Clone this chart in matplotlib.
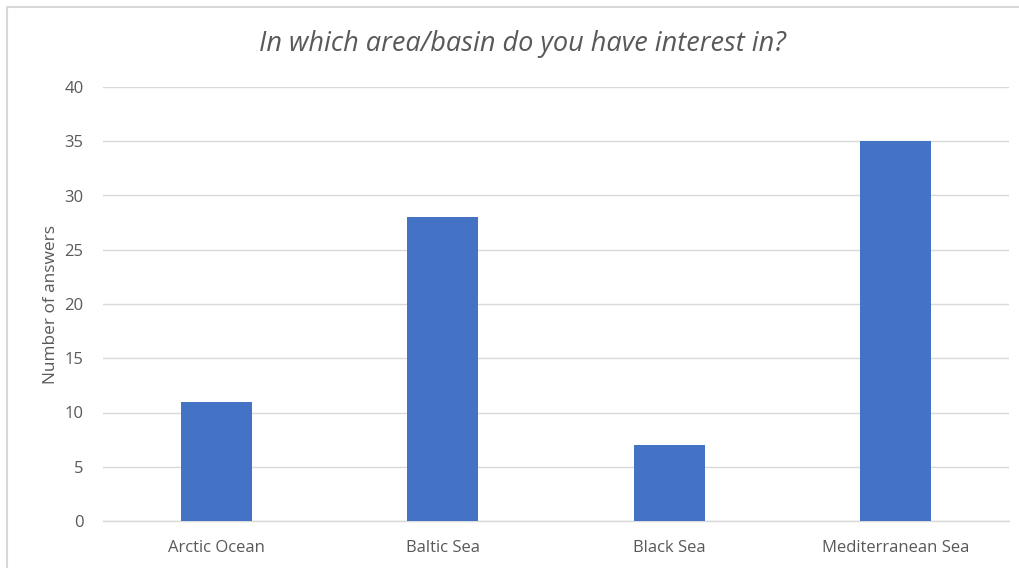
import matplotlib
matplotlib.use("Agg")
import matplotlib.pyplot as plt
from matplotlib.patches import Rectangle

categories = ["Arctic Ocean", "Baltic Sea", "Black Sea", "Mediterranean Sea"]
answers = [11, 28, 7, 35]
yticks = [0, 5, 10, 15, 20, 25, 30, 35, 40]

plt.rcParams['font.family'] = ['Open Sans', 'DejaVu Sans']
gray = '#595959'

fig = plt.figure(figsize=(10.2, 5.68), dpi=100)
ax = fig.add_axes([103/1020, 1-521/568, (1009-103)/1020, (521-87)/568])

x = list(range(len(categories)))
ax.bar(x, answers, width=0.315, color='#4472c4', zorder=3)
ax.set_xlim(-0.5, len(categories)-0.5)
ax.set_ylim(0, 40)
ax.set_yticks(yticks)
ax.set_xticks(x)
ax.set_xticklabels(categories)
ax.tick_params(axis='both', length=0, colors=gray, labelsize=12)
ax.tick_params(axis='x', pad=14)
ax.tick_params(axis='y', pad=14)
ax.grid(axis='y', color='#d9d9d9', linewidth=1, zorder=0)
for s in ['top', 'right', 'left']:
    ax.spines[s].set_visible(False)
ax.spines['bottom'].set_color('#d9d9d9')
ax.spines['bottom'].set_linewidth(1)

ax.set_ylabel("Number of answers", color=gray, fontsize=12.4, labelpad=4)
fig.text(0.5125, 1-44/568, "In which area/basin do you have interest in?",
         ha='center', va='center', fontsize=19.5, style='italic', color=gray)

fig.patches.append(Rectangle((7/1020, -0.02), 1.05, 1-7/568+0.02, transform=fig.transFigure,
                             fill=False, edgecolor='#d9d9d9', linewidth=1.5))

fig.savefig("out.png", dpi=100)
